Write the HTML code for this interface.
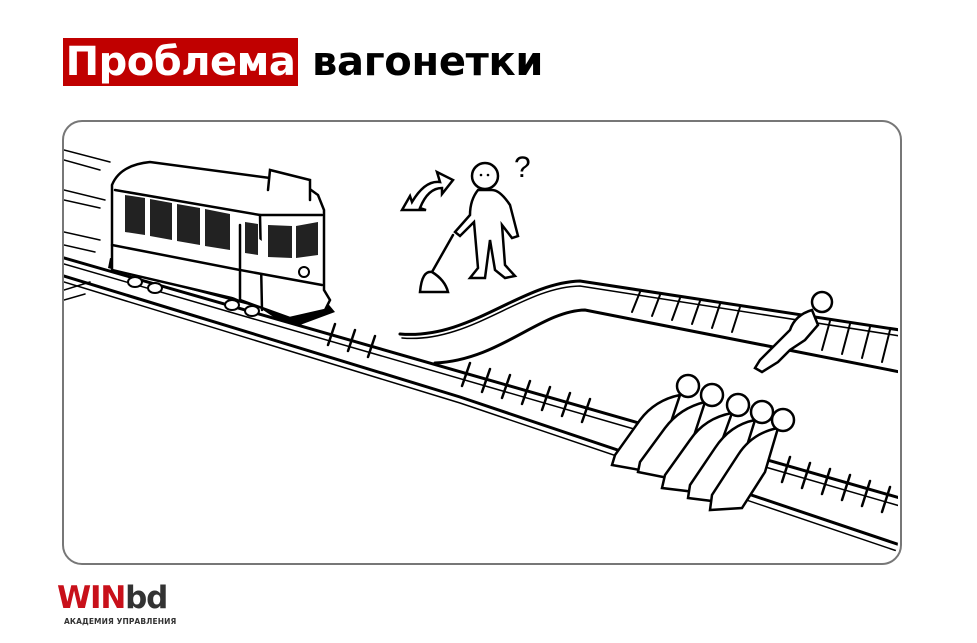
<!DOCTYPE html>
<html><head><meta charset="utf-8"><style>
body{margin:0;width:977px;height:643px;background:#fff;overflow:hidden;position:relative;font-family:"Liberation Sans",sans-serif}
.t1{position:absolute;left:63px;top:38px;width:235px;height:48px;background:#c00000;color:#fff;font-weight:bold;font-size:40px;line-height:48px;text-align:center;font-family:"DejaVu Sans",sans-serif;letter-spacing:-0.5px;white-space:nowrap}
.t2{position:absolute;left:312px;top:38px;color:#000;font-weight:bold;font-size:40px;line-height:48px;font-family:"DejaVu Sans",sans-serif;letter-spacing:-0.3px}
.frame{position:absolute;left:62px;top:120px;width:836px;height:441px;border:2px solid #777;border-radius:20px}
.logo{position:absolute;left:57px;top:582px;font-weight:bold;font-size:31px;line-height:32px;font-family:"DejaVu Sans",sans-serif;letter-spacing:-1.2px}
.sub{position:absolute;left:64px;top:617px;font-size:7.5px;font-weight:bold;color:#333;letter-spacing:0.1px;font-family:"DejaVu Sans",sans-serif}
</style></head><body>
<div class="t1">Проблема</div>
<div class="t2">вагонетки</div>
<div class="frame"></div>
<svg style="position:absolute;left:0;top:0" width="977" height="643" viewBox="0 0 977 643">
<defs><clipPath id="c"><rect x="64" y="122" width="834" height="439" rx="19"/></clipPath></defs>
<g clip-path="url(#c)" fill="none" stroke="#000" stroke-linecap="round">
<g stroke-width="1.5">
<line x1="64" y1="150" x2="110" y2="162"/><line x1="64" y1="160" x2="100" y2="170"/>
<line x1="64" y1="190" x2="105" y2="200"/><line x1="64" y1="200" x2="100" y2="208"/>
<line x1="64" y1="232" x2="100" y2="240"/><line x1="64" y1="245" x2="95" y2="252"/>
<line x1="64" y1="290" x2="90" y2="282"/><line x1="64" y1="300" x2="85" y2="294"/>
</g>
<path d="M64 258 L900 498" stroke-width="3"/>
<path d="M64 264 L900 506" stroke-width="1.5"/>
<path d="M64 276 L460 397 L900 545" stroke-width="3"/>
<path d="M64 282 L460 403 L900 552" stroke-width="1.5"/>
<g stroke-width="2.5">
<line x1="335" y1="324" x2="328" y2="345"/><line x1="355" y1="330" x2="348" y2="351"/>
<line x1="375" y1="336" x2="368" y2="357"/><line x1="470" y1="363" x2="462" y2="386"/>
<line x1="490" y1="369" x2="482" y2="392"/><line x1="510" y1="375" x2="502" y2="398"/>
<line x1="530" y1="381" x2="522" y2="404"/><line x1="550" y1="387" x2="542" y2="410"/>
<line x1="570" y1="393" x2="562" y2="416"/><line x1="590" y1="399" x2="582" y2="422"/>
<line x1="790" y1="457" x2="782" y2="482"/><line x1="810" y1="463" x2="802" y2="488"/>
<line x1="830" y1="469" x2="822" y2="494"/><line x1="850" y1="475" x2="842" y2="500"/>
<line x1="870" y1="481" x2="862" y2="506"/><line x1="890" y1="487" x2="882" y2="512"/>
</g>
<path d="M400 334 C470 340 520 283 580 281 L900 330" stroke-width="3"/>
<path d="M402 338 C470 344 522 287 580 286 L900 336" stroke-width="1.5"/>
<path d="M435 363 C500 360 540 311 585 310 L900 372" stroke-width="3"/>
<g stroke-width="2">
<line x1="640" y1="292" x2="632" y2="312"/><line x1="660" y1="295" x2="652" y2="316"/>
<line x1="680" y1="298" x2="672" y2="320"/><line x1="700" y1="301" x2="692" y2="324"/>
<line x1="720" y1="304" x2="712" y2="328"/><line x1="740" y1="307" x2="732" y2="332"/>
<line x1="830" y1="321" x2="822" y2="350"/><line x1="850" y1="324" x2="842" y2="354"/>
<line x1="870" y1="327" x2="862" y2="358"/><line x1="890" y1="330" x2="882" y2="362"/>
</g>
<path d="M108 268 L260 308 L275 318 L300 325 L335 312 L325 300 L110 258 Z" fill="#000" stroke="none"/>
<g stroke-width="2.5" fill="#fff">
<path d="M112 265 L112 185 Q120 165 150 162 L300 182 L318 195 L324 210 L324 290 L330 300 L325 310 L290 318 L240 300 L112 270 Z"/>
<path d="M115 190 L260 215 L322 215"/>
<path d="M260 215 L262 310"/>
<path d="M112 245 L240 270 L240 300"/>
<path d="M240 225 L240 270 L322 285"/>
<path d="M268 190 L270 170 L310 180 L310 200"/>
</g>
<g fill="#fff" stroke="#000" stroke-width="2">
<ellipse cx="135" cy="282" rx="7" ry="5"/><ellipse cx="155" cy="288" rx="7" ry="5"/>
<ellipse cx="232" cy="305" rx="7" ry="5"/><ellipse cx="252" cy="311" rx="7" ry="5"/>
</g>
<g fill="#222" stroke="none">
<path d="M125 195 L145 198 L145 235 L125 232Z"/><path d="M150 199 L172 203 L172 240 L150 236Z"/>
<path d="M177 204 L200 208 L200 245 L177 241Z"/><path d="M205 209 L230 214 L230 250 L205 246Z"/>
<path d="M245 222 L258 224 L258 255 L245 253Z"/><path d="M268 225 L292 226 L292 258 L268 257Z"/><path d="M296 226 L318 222 L318 255 L296 258Z"/>
</g>
<circle cx="304" cy="272" r="5" stroke-width="2"/>
<path d="M402 210 L410 196 L412 202 Q425 180 440 182 L437 172 L453 180 L442 194 L442 188 Q428 188 420 208 L426 210 Z" stroke-width="2.5" fill="#fff"/>
<g stroke-width="2.5" fill="#fff">
<circle cx="485" cy="176" r="13"/>
<path d="M478 190 Q470 200 470 215 L455 232 L460 236 L474 222 L478 268 L470 278 L485 278 L490 240 L495 270 L505 278 L515 276 L505 265 L502 225 L512 238 L518 236 L510 205 Q500 190 492 190 Z"/>
<path d="M453 235 L432 272"/>
<path d="M420 292 Q422 270 432 272 Q445 280 448 292 Z"/>
</g>
<circle cx="481" cy="175" r="1.3" fill="#000" stroke="none"/><circle cx="488" cy="175" r="1.3" fill="#000" stroke="none"/>
<g stroke-width="2.5" fill="#fff">
<circle cx="822" cy="302" r="10"/>
<path d="M812 310 Q795 315 790 330 L775 345 L760 360 L755 368 L762 372 L778 362 L790 350 L805 340 L818 325 Z"/>
</g>
<g stroke-width="2.5" fill="#fff">
<path d="M680 395 Q655 400 640 420 L615 455 L612 465 L640 470 L665 440 Z"/>
<path d="M705 402 Q680 408 665 428 L640 462 L638 472 L668 478 L690 448 Z"/>
<path d="M732 413 Q705 418 690 440 L665 475 L662 488 L695 492 L715 460 Z"/>
<path d="M755 420 Q730 425 715 448 L690 485 L688 498 L720 502 L740 468 Z"/>
<path d="M778 428 Q752 433 738 455 L712 495 L710 510 L742 508 L765 472 Z"/>
<circle cx="688" cy="386" r="11"/><circle cx="712" cy="395" r="11"/><circle cx="738" cy="405" r="11"/><circle cx="762" cy="412" r="11"/><circle cx="783" cy="420" r="11"/>
</g>
</g>
<text x="514" y="177" font-family="Liberation Sans,sans-serif" font-size="30" fill="#000">?</text>
</svg>
<div class="logo"><span style="color:#c8101a">WIN</span><span style="color:#333">bd</span></div>
<div class="sub">АКАДЕМИЯ УПРАВЛЕНИЯ</div>
</body></html>
